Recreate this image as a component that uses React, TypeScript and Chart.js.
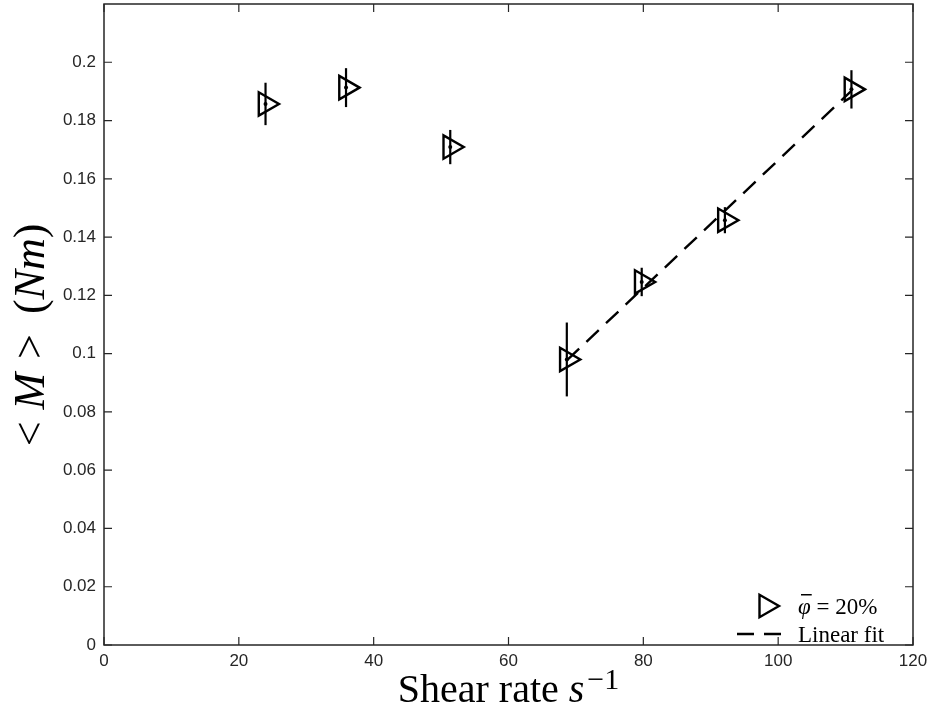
import React, { useEffect, useRef } from 'react';
import { Chart, registerables } from 'chart.js';
Chart.register(...registerables);

// ---- data ----
const shearRate = [23.96, 35.9, 51.36, 68.65, 79.76, 92.1, 110.87];
const torque = [0.1857, 0.1913, 0.1709, 0.098, 0.1246, 0.1458, 0.1907];
const torqueErr = [0.0069, 0.0063, 0.0055, 0.0123, 0.0045, 0.0041, 0.0062];
const fitX = [68.65, 110.87];
const fitY = [0.0977, 0.1902];
const xAxisRange = [0, 120];
const yAxisRange = [0, 0.22];
const xStep = 20;
const yStep = 0.02;
const yLabelMax = 0.2;
const seriesLabel = 'φ̄ = 20%';
const fitLabel = 'Linear fit';

const AXIS_COLOR = '#262626';
const SERIF = '"Liberation Serif", "Times New Roman", serif';
const SANS = '"Liberation Sans", Arial, sans-serif';

type Seg = { text: string; font: string; dy?: number; gap?: number };

function segWidth(ctx: CanvasRenderingContext2D, segs: Seg[]) {
  let w = 0;
  for (const s of segs) {
    ctx.font = s.font;
    w += ctx.measureText(s.text).width + (s.gap || 0);
  }
  return w;
}

function drawSegs(ctx: CanvasRenderingContext2D, segs: Seg[], x: number, y: number) {
  let cx = x;
  for (const s of segs) {
    ctx.font = s.font;
    ctx.fillText(s.text, cx, y + (s.dy || 0));
    cx += ctx.measureText(s.text).width + (s.gap || 0);
  }
}

function triPath(ctx: CanvasRenderingContext2D, x: number, y: number, r: number) {
  ctx.beginPath();
  ctx.moveTo(x + r, y);
  ctx.lineTo(x - 0.5 * r, y + 0.866 * r);
  ctx.lineTo(x - 0.5 * r, y - 0.866 * r);
  ctx.closePath();
}

const decoPlugin = {
  id: 'deco',
  beforeDatasetsDraw(chart: any) {
    const { ctx, scales } = chart;
    const xs = scales.x;
    const ys = scales.y;
    ctx.save();
    ctx.strokeStyle = '#000';
    ctx.lineWidth = 2.2;
    ctx.lineCap = 'square';
    shearRate.forEach((v, i) => {
      const px = xs.getPixelForValue(v);
      ctx.beginPath();
      ctx.moveTo(px, ys.getPixelForValue(torque[i] - torqueErr[i]));
      ctx.lineTo(px, ys.getPixelForValue(torque[i] + torqueErr[i]));
      ctx.stroke();
    });
    ctx.restore();
  },
  afterDraw(chart: any) {
    const { ctx, chartArea: a, scales } = chart;
    const xs = scales.x;
    const ys = scales.y;
    ctx.save();
    // box
    ctx.strokeStyle = AXIS_COLOR;
    ctx.lineWidth = 1.5;
    ctx.strokeRect(a.left, a.top, a.right - a.left, a.bottom - a.top);
    // inward ticks on all sides
    const tl = 8;
    ctx.lineWidth = 1.2;
    ctx.beginPath();
    xs.ticks.forEach((t: any) => {
      const px = xs.getPixelForValue(t.value);
      ctx.moveTo(px, a.bottom);
      ctx.lineTo(px, a.bottom - tl);
      ctx.moveTo(px, a.top);
      ctx.lineTo(px, a.top + tl);
    });
    ys.ticks.forEach((t: any) => {
      const py = ys.getPixelForValue(t.value);
      ctx.moveTo(a.left, py);
      ctx.lineTo(a.left + tl, py);
      ctx.moveTo(a.right, py);
      ctx.lineTo(a.right - tl, py);
    });
    ctx.stroke();

    ctx.fillStyle = '#000';
    ctx.textBaseline = 'alphabetic';
    ctx.textAlign = 'left';

    // x title
    const xt: Seg[] = [
      { text: 'Shear rate ', font: `40px ${SERIF}` },
      { text: 's', font: `italic 40px ${SERIF}`, gap: 3 },
      { text: '−1', font: `30px ${SERIF}`, dy: -13 },
    ];
    const xw = segWidth(ctx, xt);
    drawSegs(ctx, xt, (a.left + a.right) / 2 - xw / 2, 702);

    // y title (rotated)
    const yt: Seg[] = [
      { text: '<', font: `44px ${SERIF}`, gap: 12 },
      { text: 'M', font: `italic 44px ${SERIF}`, gap: 14 },
      { text: '>', font: `44px ${SERIF}`, gap: 20 },
      { text: '(', font: `44px ${SERIF}` },
      { text: 'Nm', font: `italic 44px ${SERIF}` },
      { text: ')', font: `44px ${SERIF}` },
    ];
    const yw = segWidth(ctx, yt);
    ctx.save();
    ctx.translate(44, 335);
    ctx.rotate(-Math.PI / 2);
    drawSegs(ctx, yt, -yw / 2, 0);
    ctx.restore();

    // legend
    const lx = 766;
    const row1 = 606;
    const row2 = 634;
    ctx.strokeStyle = '#000';
    ctx.lineWidth = 2.4;
    ctx.setLineDash([]);
    triPath(ctx, lx, row1, 13);
    ctx.stroke();
    ctx.setLineDash([17, 10]);
    ctx.lineWidth = 2.4;
    ctx.beginPath();
    ctx.moveTo(737, row2);
    ctx.lineTo(790, row2);
    ctx.stroke();
    ctx.setLineDash([]);
    const textX = 798;
    const base1 = row1 + 8;
    ctx.font = `italic 23px ${SERIF}`;
    const phiW = ctx.measureText('φ').width;
    drawSegs(ctx, [
      { text: 'φ', font: `italic 23px ${SERIF}` },
      { text: ' = 20%', font: `23px ${SERIF}` },
    ], textX, base1);
    // bar over phi
    ctx.fillRect(textX + 3, base1 - 20, phiW - 2, 1.5);
    drawSegs(ctx, [{ text: fitLabel, font: `23px ${SERIF}` }], textX, row2 + 8);
    ctx.restore();
  },
};

export default function App() {
  const ref = useRef<HTMLCanvasElement | null>(null);
  useEffect(() => {
    const canvas = ref.current;
    if (!canvas) return;
    const pts = shearRate.map((x, i) => ({ x, y: torque[i] }));
    const chart = new Chart(canvas, {
      type: 'scatter',
      data: {
        datasets: [
          {
            label: seriesLabel,
            data: pts,
            pointStyle: 'triangle',
            rotation: 90,
            pointRadius: 13.5,
            borderColor: '#000',
            borderWidth: 2.4,
            backgroundColor: 'rgba(0,0,0,0)',
            showLine: false,
          } as any,
          {
            label: 'centres',
            data: pts,
            pointStyle: 'circle',
            pointRadius: 2,
            borderWidth: 0,
            backgroundColor: '#000',
            showLine: false,
          } as any,
          {
            type: 'line',
            label: fitLabel,
            data: fitX.map((x, i) => ({ x, y: fitY[i] })),
            borderColor: '#000',
            borderWidth: 2.4,
            borderDash: [17, 10],
            pointRadius: 0,
            showLine: true,
            fill: false,
          } as any,
        ],
      },
      options: {
        responsive: false,
        animation: false,
        devicePixelRatio: 1,
        layout: { autoPadding: false, padding: { top: 4, right: 20, left: 0, bottom: 0 } },
        plugins: { legend: { display: false }, tooltip: { enabled: false } },
        scales: {
          x: {
            type: 'linear',
            min: xAxisRange[0],
            max: xAxisRange[1],
            grid: { display: false, drawTicks: false },
            border: { display: false },
            ticks: {
              stepSize: xStep,
              color: AXIS_COLOR,
              font: { family: SANS, size: 17 },
              padding: 6,
              maxRotation: 0,
            },
            afterFit: (s: any) => {
              s.height = 66;
              s.paddingLeft = 0;
              s.paddingRight = 0;
            },
          },
          y: {
            type: 'linear',
            min: yAxisRange[0],
            max: yAxisRange[1],
            grid: { display: false, drawTicks: false },
            border: { display: false },
            ticks: {
              stepSize: yStep,
              color: AXIS_COLOR,
              font: { family: SANS, size: 17 },
              padding: 8,
              callback: (v: any) => String(Number(Number(v).toFixed(2))),
            },
            afterBuildTicks: (s: any) => {
              s.ticks = s.ticks.filter((t: any) => t.value <= yLabelMax + 1e-6);
            },
            afterFit: (s: any) => {
              s.width = 104;
              s.paddingTop = 0;
              s.paddingBottom = 0;
            },
          },
        },
      } as any,
      plugins: [decoPlugin],
    });
    return () => chart.destroy();
  }, []);
  return (
    <div style={{ position: 'fixed', left: 0, top: 0, width: 933, height: 711, background: '#fff' }}>
      <canvas ref={ref} width={933} height={711} style={{ display: 'block' }} />
    </div>
  );
}
